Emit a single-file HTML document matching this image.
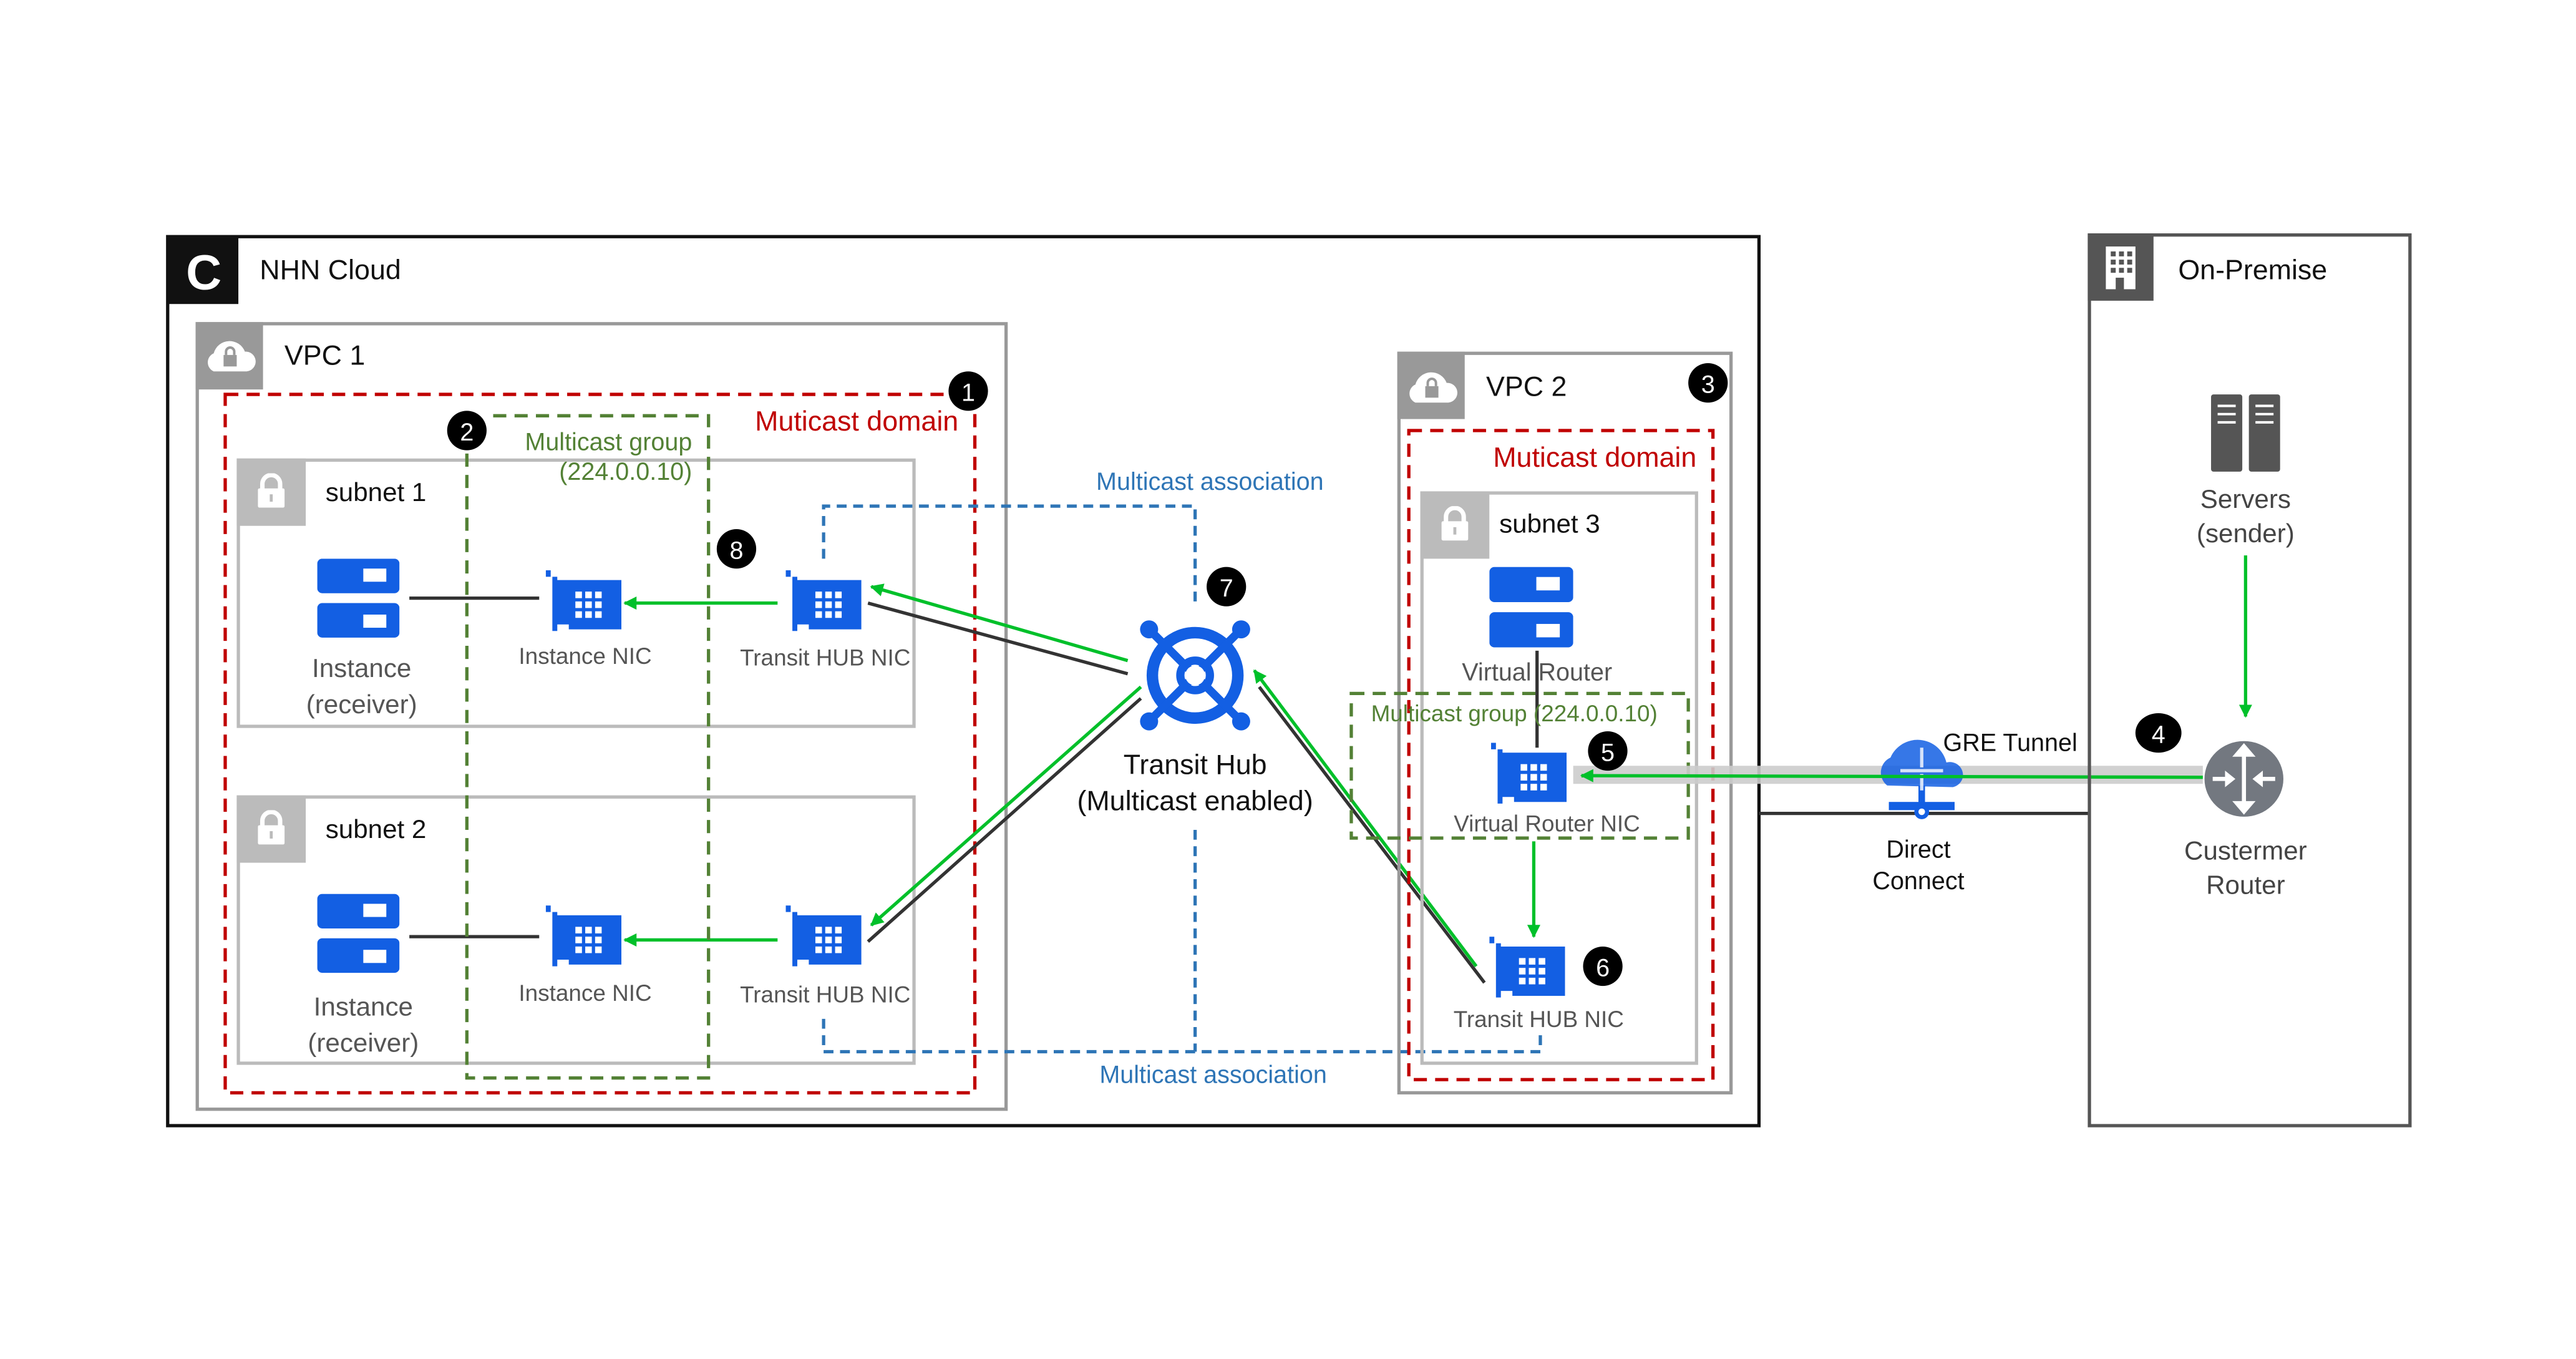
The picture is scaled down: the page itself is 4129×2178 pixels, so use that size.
<!DOCTYPE html>
<html><head><meta charset="utf-8"><style>
html,body{margin:0;padding:0;background:#fff;width:4129px;height:2178px;overflow:hidden}
svg{display:block}
text{font-family:"Liberation Sans",sans-serif}
</style></head><body>
<svg width="4129" height="2178" viewBox="0 0 1567 827" preserveAspectRatio="none" xmlns="http://www.w3.org/2000/svg">
<defs>
<symbol id="nic" viewBox="0 0 46 38">
<path d="M0 0h3v4h4v2h39v30h-32v-3h-7v4h-3v-33h-4z" fill="#135fe3"/>
<g fill="#fff"><rect x="18" y="13" width="4" height="4"/><rect x="24" y="13" width="4" height="4"/><rect x="30" y="13" width="4" height="4"/>
<rect x="18" y="19" width="4" height="4"/><rect x="24" y="19" width="4" height="4"/><rect x="30" y="19" width="4" height="4"/>
<rect x="18" y="25" width="4" height="4"/><rect x="24" y="25" width="4" height="4"/><rect x="30" y="25" width="4" height="4"/></g>
</symbol>
<symbol id="inst" viewBox="0 0 50 50">
<rect x="0" y="0" width="50" height="21" rx="3" fill="#135fe3"/><rect x="28" y="6" width="14" height="8" fill="#fff"/>
<rect x="0" y="27" width="50" height="21" rx="3" fill="#135fe3"/><rect x="28" y="34" width="14" height="8" fill="#fff"/>
</symbol>
<symbol id="lock" viewBox="0 0 20 24">
<path d="M4 11v-4a6 6 0 0 1 12 0v4" fill="none" stroke="#fff" stroke-width="3"/>
<rect x="1" y="10" width="18" height="13" rx="1" fill="#fff"/><rect x="9" y="14" width="2" height="5" fill="#bbb"/>
</symbol>
<symbol id="cloud" viewBox="0 0 32 22">
<path d="M6 21a6 6 0 0 1 0-11a10 10 0 0 1 19 -1a6 6 0 0 1 1 12z" fill="#fff"/>
<rect x="12" y="11" width="8" height="7" fill="#999"/><path d="M13.5 11v-2a2.5 2.5 0 0 1 5 0v2" fill="none" stroke="#999" stroke-width="1.5"/>
</symbol>
<marker id="ga" viewBox="0 0 10 10" refX="9" refY="5" markerWidth="4" markerHeight="4" orient="auto"><path d="M0 0L10 5L0 10z" fill="#00c02a"/></marker>
</defs>

<rect x="102" y="144" width="968" height="541" fill="none" stroke="#111" stroke-width="2"/>
<rect x="102" y="144" width="43" height="41" fill="#111"/>
<text x="124" y="176" font-size="30" font-weight="bold" fill="#fff" text-anchor="middle">C</text>
<text x="158" y="170" font-size="17" fill="#111">NHN Cloud</text>

<rect x="120" y="197" width="492" height="478" fill="none" stroke="#999" stroke-width="2"/>
<rect x="119" y="196" width="41" height="41" fill="#999"/>
<use href="#cloud" x="124" y="205" width="32" height="22"/>
<text x="173" y="222" font-size="17" fill="#111">VPC 1</text>

<rect x="137" y="240" width="456" height="425" fill="none" stroke="#c00000" stroke-width="2" stroke-dasharray="8,5"/>
<text x="583" y="262" font-size="17" fill="#c00000" text-anchor="end">Muticast domain</text>

<rect x="145" y="280" width="411" height="162" fill="none" stroke="#bbb" stroke-width="2"/>
<rect x="144" y="279" width="42" height="41" fill="#bbb"/>
<use href="#lock" x="156" y="288" width="18" height="22"/>
<text x="198" y="305" font-size="16" fill="#111">subnet 1</text>
<use href="#inst" x="193" y="340" width="50" height="50"/>
<text x="220" y="412" font-size="16" fill="#555" text-anchor="middle">Instance</text>
<text x="220" y="434" font-size="16" fill="#555" text-anchor="middle">(receiver)</text>
<line x1="249" y1="364" x2="328" y2="364" stroke="#333" stroke-width="2"/>
<use href="#nic" x="332" y="347" width="46" height="38"/>
<text x="356" y="404" font-size="14" fill="#555" text-anchor="middle">Instance NIC</text>
<use href="#nic" x="478" y="347" width="46" height="38"/>
<text x="502" y="405" font-size="14" fill="#555" text-anchor="middle">Transit HUB NIC</text>
<line x1="473" y1="367" x2="380" y2="367" stroke="#00c02a" stroke-width="2" marker-end="url(#ga)"/>

<rect x="145" y="485" width="411" height="162" fill="none" stroke="#bbb" stroke-width="2"/>
<rect x="144" y="484" width="42" height="41" fill="#bbb"/>
<use href="#lock" x="156" y="493" width="18" height="22"/>
<text x="198" y="510" font-size="16" fill="#111">subnet 2</text>
<use href="#inst" x="193" y="544" width="50" height="50"/>
<text x="221" y="618" font-size="16" fill="#555" text-anchor="middle">Instance</text>
<text x="221" y="640" font-size="16" fill="#555" text-anchor="middle">(receiver)</text>
<line x1="249" y1="570" x2="328" y2="570" stroke="#333" stroke-width="2"/>
<use href="#nic" x="332" y="551" width="46" height="38"/>
<text x="356" y="609" font-size="14" fill="#555" text-anchor="middle">Instance NIC</text>
<use href="#nic" x="478" y="551" width="46" height="38"/>
<text x="502" y="610" font-size="14" fill="#555" text-anchor="middle">Transit HUB NIC</text>
<line x1="473" y1="572" x2="380" y2="572" stroke="#00c02a" stroke-width="2" marker-end="url(#ga)"/>

<path d="M300 253H431V656H284V270" fill="none" stroke="#538135" stroke-width="2" stroke-dasharray="8,5"/>
<text x="421" y="274" font-size="15" fill="#538135" text-anchor="end">Multicast group</text>
<text x="421" y="292" font-size="15" fill="#538135" text-anchor="end">(224.0.0.10)</text>

<path d="M501 340V308H727V370" fill="none" stroke="#2e75b6" stroke-width="2" stroke-dasharray="6,4"/>
<text x="736" y="298" font-size="15" fill="#2e75b6" text-anchor="middle">Multicast association</text>
<path d="M501 620V640H937V628" fill="none" stroke="#2e75b6" stroke-width="2" stroke-dasharray="6,4"/>
<path d="M727 505V640" fill="none" stroke="#2e75b6" stroke-width="2" stroke-dasharray="6,4"/>
<text x="738" y="659" font-size="15" fill="#2e75b6" text-anchor="middle">Multicast association</text>

<line x1="528" y1="367" x2="686" y2="410" stroke="#333" stroke-width="2"/>
<line x1="686" y1="402" x2="530" y2="357" stroke="#00c02a" stroke-width="2" marker-end="url(#ga)"/>
<line x1="528" y1="573" x2="694" y2="425" stroke="#333" stroke-width="2"/>
<line x1="694" y1="418" x2="530" y2="563" stroke="#00c02a" stroke-width="2" marker-end="url(#ga)"/>
<line x1="903" y1="598" x2="766" y2="418" stroke="#333" stroke-width="2"/>
<line x1="898" y1="588" x2="763" y2="408" stroke="#00c02a" stroke-width="2" marker-end="url(#ga)"/>

<g stroke="#135fe3" fill="none">
<circle cx="727" cy="411" r="26" stroke-width="7"/>
<circle cx="727" cy="411" r="9" stroke-width="5"/>
<path d="M700 384L754 438M754 384L700 438" stroke-width="5"/>
</g>
<circle cx="727" cy="411" r="6" fill="#fff"/>
<g fill="#135fe3"><circle cx="699" cy="383" r="5.5"/><circle cx="755" cy="383" r="5.5"/><circle cx="699" cy="439" r="5.5"/><circle cx="755" cy="439" r="5.5"/></g>
<text x="727" y="471" font-size="17" fill="#111" text-anchor="middle">Transit Hub</text>
<text x="727" y="493" font-size="17" fill="#111" text-anchor="middle">(Multicast enabled)</text>

<rect x="851" y="215" width="202" height="450" fill="none" stroke="#999" stroke-width="2"/>
<rect x="850" y="214" width="41" height="41" fill="#999"/>
<use href="#cloud" x="855" y="224" width="32" height="22"/>
<text x="904" y="241" font-size="17" fill="#111">VPC 2</text>
<rect x="857" y="262" width="185" height="395" fill="none" stroke="#c00000" stroke-width="2" stroke-dasharray="8,5"/>
<text x="1032" y="284" font-size="17" fill="#c00000" text-anchor="end">Muticast domain</text>
<rect x="865" y="300" width="167" height="347" fill="none" stroke="#bbb" stroke-width="2"/>
<rect x="864" y="299" width="42" height="41" fill="#bbb"/>
<use href="#lock" x="876" y="308" width="18" height="22"/>
<text x="912" y="324" font-size="16" fill="#111">subnet 3</text>
<use href="#inst" x="906" y="345" width="51" height="51"/>
<line x1="935" y1="396" x2="935" y2="455" stroke="#333" stroke-width="2"/>
<text x="935" y="414" font-size="15" fill="#555" text-anchor="middle">Virtual Router</text>
<path d="M822 422H1027V510H822Z" fill="none" stroke="#538135" stroke-width="2" stroke-dasharray="8,5"/>
<text x="834" y="439" font-size="14" fill="#538135">Multicast group (224.0.0.10)</text>
<use href="#nic" x="907" y="452" width="46" height="38"/>
<text x="941" y="506" font-size="14" fill="#555" text-anchor="middle">Virtual Router NIC</text>
<line x1="933" y1="512" x2="933" y2="570" stroke="#00c02a" stroke-width="2" marker-end="url(#ga)"/>
<use href="#nic" x="906" y="570" width="46" height="38"/>
<text x="936" y="625" font-size="14" fill="#555" text-anchor="middle">Transit HUB NIC</text>

<line x1="1070" y1="495" x2="1271" y2="495" stroke="#333" stroke-width="2"/>
<rect x="957" y="466" width="383" height="11" fill="#ccc" opacity="0.9"/>
<path d="M1148 478a10 10 0 0 1 2-17a18 18 0 0 1 34 3a8 8 0 0 1 10 9a8 8 0 0 1-6 6z" fill="#135fe3" opacity="0.85"/>
<rect x="1149" y="488" width="40" height="5" fill="#135fe3"/>
<rect x="1167" y="478" width="4" height="12" fill="#135fe3"/>
<circle cx="1169" cy="494" r="4.5" fill="#135fe3"/><circle cx="1169" cy="494" r="2" fill="#fff"/>
<path d="M1169 455v12M1156 469h26M1169 471v10" stroke="#fff" stroke-width="2" opacity="0.8"/>
<line x1="1340" y1="473" x2="962" y2="472" stroke="#00c02a" stroke-width="2" marker-end="url(#ga)"/>
<text x="1182" y="457" font-size="15" fill="#111">GRE Tunnel</text>
<text x="1167" y="522" font-size="15" fill="#111" text-anchor="middle">Direct</text>
<text x="1167" y="541" font-size="15" fill="#111" text-anchor="middle">Connect</text>

<rect x="1271" y="143" width="195" height="542" fill="none" stroke="#555" stroke-width="2"/>
<rect x="1270" y="142" width="40" height="41" fill="#555"/>
<rect x="1281" y="150" width="18" height="26" fill="#fff"/>
<g fill="#555"><rect x="1284" y="153" width="3" height="3"/><rect x="1289" y="153" width="3" height="3"/><rect x="1294" y="153" width="3" height="3"/>
<rect x="1284" y="158" width="3" height="3"/><rect x="1289" y="158" width="3" height="3"/><rect x="1294" y="158" width="3" height="3"/>
<rect x="1284" y="163" width="3" height="3"/><rect x="1289" y="163" width="3" height="3"/><rect x="1294" y="163" width="3" height="3"/>
<rect x="1287" y="169" width="5" height="7"/></g>
<text x="1325" y="170" font-size="17" fill="#111">On-Premise</text>
<rect x="1345" y="240" width="19" height="47" rx="1.5" fill="#555"/>
<rect x="1368" y="240" width="19" height="47" rx="1.5" fill="#555"/>
<g stroke="#fff" stroke-width="1.5"><path d="M1349 247h11M1349 252h11M1349 257h11M1372 247h11M1372 252h11M1372 257h11"/></g>
<text x="1366" y="309" font-size="16" fill="#444" text-anchor="middle">Servers</text>
<text x="1366" y="330" font-size="16" fill="#444" text-anchor="middle">(sender)</text>
<line x1="1366" y1="338" x2="1366" y2="436" stroke="#00c02a" stroke-width="2" marker-end="url(#ga)"/>
<ellipse cx="1365" cy="474" rx="24" ry="23" fill="#737880"/>
<g stroke="#fff" stroke-width="2.5" fill="#fff">
<path d="M1365 455v38" /><path d="M1359 460l6-7 6 7zM1359 488l6 7 6-7z" stroke-width="1"/>
<path d="M1346 474h9M1375 474h9" /><path d="M1354 470l5 4-5 4zM1376 470l-5 4 5 4z" stroke-width="1"/>
</g>
<text x="1366" y="523" font-size="16" fill="#444" text-anchor="middle">Custermer</text>
<text x="1366" y="544" font-size="16" fill="#444" text-anchor="middle">Router</text>

<g font-size="15" fill="#fff" text-anchor="middle">
<circle cx="589" cy="238" r="12" fill="#000"/><text x="589" y="244">1</text>
<circle cx="284" cy="262" r="12" fill="#000"/><text x="284" y="268">2</text>
<circle cx="1039" cy="233" r="12" fill="#000"/><text x="1039" y="239">3</text>
<ellipse cx="1313" cy="446" rx="14" ry="12" fill="#000"/><text x="1313" y="452">4</text>
<circle cx="978" cy="457" r="12" fill="#000"/><text x="978" y="463">5</text>
<circle cx="975" cy="588" r="12" fill="#000"/><text x="975" y="594">6</text>
<circle cx="746" cy="357" r="12" fill="#000"/><text x="746" y="363">7</text>
<circle cx="448" cy="334" r="12" fill="#000"/><text x="448" y="340">8</text>
</g>
</svg>
</body></html>
